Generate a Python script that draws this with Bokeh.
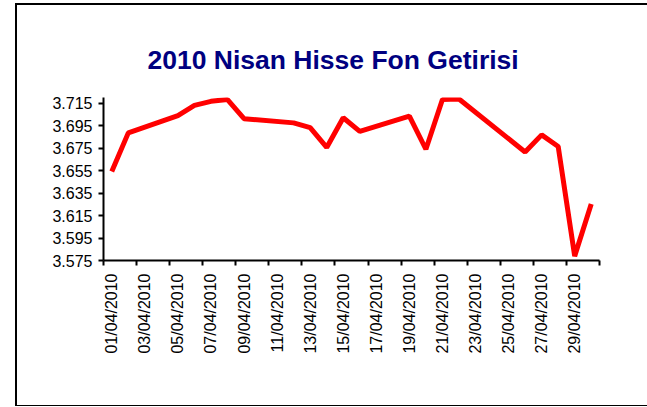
import math
from bokeh.plotting import figure
from bokeh.models import Range1d, FixedTicker, PrintfTickFormatter, Title
from bokeh.embed import file_html
from bokeh.resources import INLINE

# ---- data ----
dates = ["01/04/2010", "02/04/2010", "05/04/2010", "06/04/2010", "07/04/2010",
         "08/04/2010", "09/04/2010", "12/04/2010", "13/04/2010", "14/04/2010",
         "15/04/2010", "16/04/2010", "19/04/2010", "20/04/2010", "21/04/2010",
         "22/04/2010", "26/04/2010", "27/04/2010", "28/04/2010", "29/04/2010",
         "30/04/2010"]
values = [3.6543, 3.6887, 3.7040, 3.7132, 3.7168,
          3.7184, 3.7013, 3.6976, 3.6933, 3.6757,
          3.7022, 3.6900, 3.7037, 3.6741, 3.7184,
          3.7189, 3.6717, 3.6869, 3.6766, 3.5789,
          3.6253]
tick_labels = ["01/04/2010", "03/04/2010", "05/04/2010", "07/04/2010", "09/04/2010",
               "11/04/2010", "13/04/2010", "15/04/2010", "17/04/2010", "19/04/2010",
               "21/04/2010", "23/04/2010", "25/04/2010", "27/04/2010", "29/04/2010"]
y_ticks = [3.575, 3.595, 3.615, 3.635, 3.655, 3.675, 3.695, 3.715]
title_text = "2010 Nisan Hisse Fon Getirisi"
n_days = 30

# day slots: day d occupies [d-1, d], centre d-0.5
xs = [int(d.split("/")[0]) - 0.5 for d in dates]
label_pos = [int(t.split("/")[0]) - 0.5 for t in tick_labels]
boundaries = list(range(0, n_days + 1, 2))

# canvas placed at (17, 5) in the page via margin + border
p = figure(width=630, height=400, output_backend="svg", toolbar_location=None,
           x_range=Range1d(0, n_days), y_range=Range1d(3.575, 3.7202),
           min_border_left=86, min_border_right=50, min_border_top=92,
           min_border_bottom=148)
p.styles = {"margin-left": "15px", "margin-top": "3px",
            "border-left": "2px solid black", "border-top": "2px solid black",
            "border-bottom": "1px solid black",
            "box-sizing": "content-box", "overflow": "hidden"}
p.background_fill_color = "white"
p.border_fill_color = "white"
p.outline_line_color = None
p.grid.visible = False

t = Title(text=title_text, align="left", text_font="Liberation Sans",
          text_font_size="26.5px", text_font_style="bold", text_color="#000080",
          standoff=45, offset=44)
p.add_layout(t, "above")

p.line(xs, values, line_color="#FF0000", line_width=5)

# x axis
xa = p.xaxis[0]
xa.ticker = FixedTicker(ticks=label_pos, minor_ticks=boundaries)
xa.major_label_overrides = {pos: lab for pos, lab in zip(label_pos, tick_labels)}
xa.major_label_orientation = math.pi / 2
xa.major_tick_out = 0
xa.major_tick_in = 0
xa.minor_tick_out = 5
xa.minor_tick_in = 0
xa.minor_tick_line_color = "black"
xa.minor_tick_line_width = 2
xa.axis_line_width = 2
xa.axis_line_color = "black"
xa.major_label_standoff = 8
xa.major_label_text_font = "Liberation Sans"
xa.major_label_text_font_size = "16px"
xa.major_label_text_color = "black"

# y axis
ya = p.yaxis[0]
ya.ticker = FixedTicker(ticks=y_ticks, minor_ticks=[])
ya.formatter = PrintfTickFormatter(format="%.3f")
ya.major_tick_out = 5
ya.major_tick_in = 0
ya.major_tick_line_width = 2
ya.major_tick_line_color = "black"
ya.minor_tick_out = 0
ya.minor_tick_in = 0
ya.axis_line_width = 2
ya.axis_line_color = "black"
ya.major_label_standoff = 6
ya.major_label_text_font = "Liberation Sans"
ya.major_label_text_font_size = "16px"
ya.major_label_text_color = "black"

open("out.html", "w").write(file_html(p, INLINE))
